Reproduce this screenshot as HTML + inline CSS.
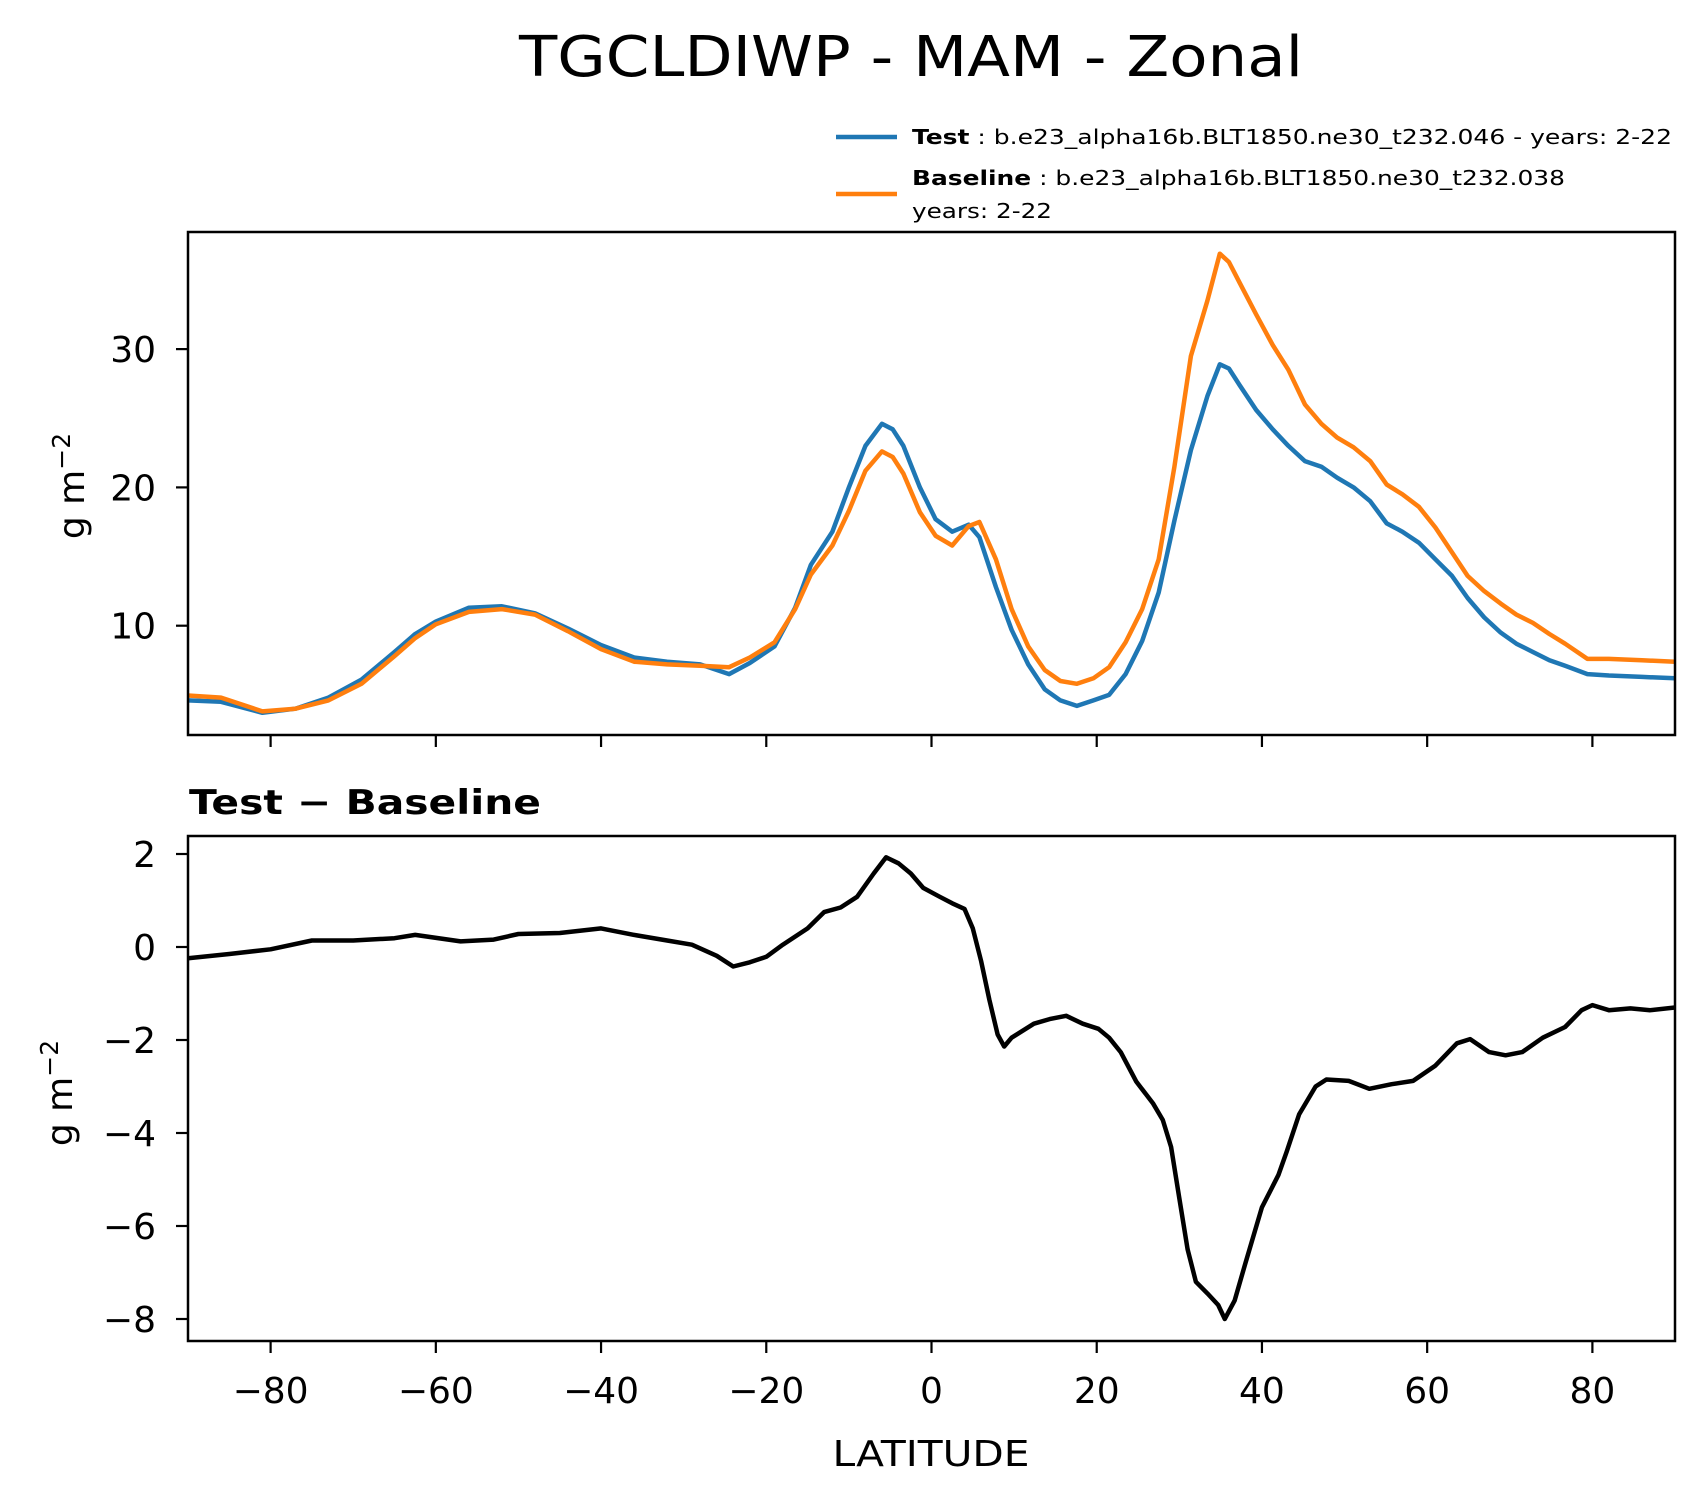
<!DOCTYPE html>
<html><head><meta charset="utf-8"><style>
html,body{margin:0;padding:0;background:#fff;}
svg{display:block;font-family:"DejaVu Sans","Liberation Sans",sans-serif;}
</style></head><body>
<svg id="fig" width="1705" height="1496" viewBox="0 0 1705 1496" xmlns="http://www.w3.org/2000/svg">
<rect width="1705" height="1496" fill="#fff"/>
<text x="911" y="76" font-size="56" text-anchor="middle" textLength="784" lengthAdjust="spacingAndGlyphs">TGCLDIWP - MAM - Zonal</text>
<g>
<line x1="836" y1="137" x2="897" y2="137" stroke="#1f77b4" stroke-width="4.5"/>
<text x="912" y="144" font-size="20" textLength="760" lengthAdjust="spacingAndGlyphs"><tspan font-weight="bold">Test</tspan> : b.e23_alpha16b.BLT1850.ne30_t232.046 - years: 2-22</text>
<line x1="836" y1="194" x2="897" y2="194" stroke="#ff7f0e" stroke-width="4.5"/>
<text x="912" y="185" font-size="20" textLength="653" lengthAdjust="spacingAndGlyphs"><tspan font-weight="bold">Baseline</tspan> : b.e23_alpha16b.BLT1850.ne30_t232.038</text>
<text x="912" y="218" font-size="20" textLength="140" lengthAdjust="spacingAndGlyphs">years: 2-22</text>
</g>
<g id="top"></g>
<text x="189" y="814" font-size="34" font-weight="bold" textLength="352" lengthAdjust="spacingAndGlyphs">Test − Baseline</text>
<g id="bot"></g>
<text x="931" y="1466" font-size="36" text-anchor="middle" textLength="197" lengthAdjust="spacingAndGlyphs">LATITUDE</text>
<text transform="translate(84,486) rotate(-90)" font-size="36" text-anchor="middle">g m<tspan dy="-14" font-size="25">−2</tspan></text>
<text transform="translate(72,1093) rotate(-90)" font-size="36" text-anchor="middle">g m<tspan dy="-14" font-size="25">−2</tspan></text>
</svg>
<script>
const lats = [-90,-86,-81,-77,-73,-69,-65,-62.5,-60,-56,-52,-48,-44,-40,-36,-32,-28,-24.5,-22,-19,-16.5,-14.6,-12,-10,-8,-6,-4.7,-3.4,-1.4,0.5,2.5,4.5,5.8,7.8,9.7,11.7,13.7,15.6,17.6,19.6,21.5,23.5,25.5,27.5,29.4,31.4,33.4,34.9,36,37.3,39.3,41.3,43.2,45.2,47.2,49.1,51.1,53.1,55.1,57,59,61,63,64.9,66.9,68.9,70.8,72.8,74.8,76.7,79.4,82,86,90];
const testVals = [4.6,4.5,3.7,4.0,4.8,6.1,8.1,9.4,10.3,11.3,11.4,10.9,9.8,8.6,7.7,7.4,7.2,6.5,7.3,8.5,11.3,14.4,16.8,20,23,24.6,24.2,23,20,17.7,16.8,17.3,16.4,12.8,9.7,7.2,5.4,4.6,4.2,4.6,5,6.5,8.9,12.4,17.6,22.7,26.6,28.9,28.6,27.4,25.6,24.2,23,21.9,21.5,20.7,20,19,17.4,16.8,16,14.8,13.6,12,10.6,9.5,8.7,8.1,7.5,7.1,6.5,6.4,6.3,6.2];
const baseVals = [4.95,4.8,3.8,4.0,4.6,5.8,7.8,9.1,10.1,11.0,11.2,10.8,9.6,8.3,7.4,7.2,7.1,7.0,7.7,8.8,11.2,13.7,15.8,18.3,21.2,22.6,22.2,21.0,18.2,16.5,15.8,17.2,17.5,14.8,11.2,8.5,6.8,6.0,5.8,6.2,7.0,8.8,11.2,14.8,21.5,29.5,33.5,36.9,36.3,34.8,32.5,30.3,28.5,26.0,24.6,23.6,22.9,21.9,20.2,19.5,18.6,17.1,15.3,13.6,12.5,11.6,10.8,10.2,9.4,8.7,7.6,7.6,7.5,7.4];
const diffLats = [-90,-85,-80,-75,-70,-65,-62.5,-57,-53,-50,-45,-40,-36,-32,-29,-26,-24,-22,-20,-18,-15,-13,-11,-9,-7,-5.5,-4,-2.5,-1,1,2.5,4,5,6,7,8,8.8,9.7,12.4,14.3,16.3,18.3,20.2,21.5,22.9,24.8,26.8,28,29,30,31,32,33.4,34.7,35.5,36.7,38,40,42,43,44.5,46.5,47.8,50.5,53,55.7,58.3,61,63.6,65.2,67.5,69.5,71.5,74,76.7,78.7,80,82,84.6,87,90];
const diffVals = [-0.24,-0.15,-0.05,0.14,0.14,0.19,0.26,0.12,0.16,0.28,0.3,0.4,0.26,0.14,0.05,-0.19,-0.42,-0.33,-0.21,0.05,0.4,0.75,0.85,1.08,1.58,1.93,1.8,1.58,1.27,1.08,0.94,0.82,0.4,-0.3,-1.13,-1.88,-2.14,-1.95,-1.65,-1.55,-1.48,-1.65,-1.76,-1.95,-2.26,-2.9,-3.36,-3.72,-4.3,-5.4,-6.5,-7.2,-7.45,-7.7,-8.0,-7.6,-6.8,-5.6,-4.9,-4.4,-3.6,-3.0,-2.85,-2.88,-3.05,-2.95,-2.88,-2.55,-2.07,-1.98,-2.26,-2.33,-2.26,-1.95,-1.72,-1.36,-1.25,-1.36,-1.32,-1.36,-1.3];
const xTicks = [-80,-60,-40,-20,0,20,40,60,80];
const topTicks = [10,20,30];
const botTicks = [2,0,-2,-4,-6,-8];

const NS="http://www.w3.org/2000/svg";
const L=188,R=1675;
const xs = v => L + (v+90)/180*(R-L);
const yTop = v => 764 - v*13.83;
const yBot = v => 947 - v*46.5;
function mk(tag,attrs,parent){const e=document.createElementNS(NS,tag);for(const k in attrs)e.setAttribute(k,attrs[k]);parent.appendChild(e);return e;}
function fmt(v){return v<0?'\u2212'+Math.abs(v):String(v);}

function panel(g,top,bottom,ys,yt,labelsX,name){
  const clipId='clip-'+name;
  const cp=mk('clipPath',{id:clipId},g);
  mk('rect',{x:L,y:top,width:R-L,height:bottom-top},cp);
  const lines=mk('g',{'clip-path':'url(#'+clipId+')'},g);
  
  
  const fr=mk('rect',{x:L,y:top,width:R-L,height:bottom-top,fill:'none',stroke:'#000','stroke-width':2.5},g);
  
  
  xTicks.forEach(t=>{
    const tk=mk('line',{x1:xs(t),x2:xs(t),y1:bottom,y2:bottom+12,stroke:'#000','stroke-width':2.2},g);
    
    
    if(labelsX){
      const tl=mk('text',{x:xs(t),y:bottom+62,'font-size':36,'text-anchor':'middle'},g);
      tl.textContent=fmt(t);
      
      
    }
  });
  yt.forEach(t=>{
    const tk=mk('line',{x1:L-12,x2:L,y1:ys(t),y2:ys(t),stroke:'#000','stroke-width':2.2},g);
    
    
    const tl=mk('text',{x:L-32,y:ys(t)+13,'font-size':36,'text-anchor':'end'},g);
    tl.textContent=fmt(t);
    
    
  });
  return lines;
}
function poly(parent,xa,ya,ys,color,name){
  const pts=xa.map((x,i)=>xs(x).toFixed(1)+','+ys(ya[i]).toFixed(1)).join(' ');
  const p=mk('polyline',{points:pts,fill:'none',stroke:color,'stroke-width':4.5,'stroke-linejoin':'round','stroke-linecap':'round'},parent);
  
  
}
const topLines=panel(document.getElementById('top'),232,735,yTop,topTicks,false,'top');
poly(topLines,lats,testVals,yTop,'#1f77b4','test-line');
poly(topLines,lats,baseVals,yTop,'#ff7f0e','baseline-line');
const botLines=panel(document.getElementById('bot'),836,1341,yBot,botTicks,true,'bottom');
poly(botLines,diffLats,diffVals,yBot,'#000','difference-line');
</script>
</body></html>
